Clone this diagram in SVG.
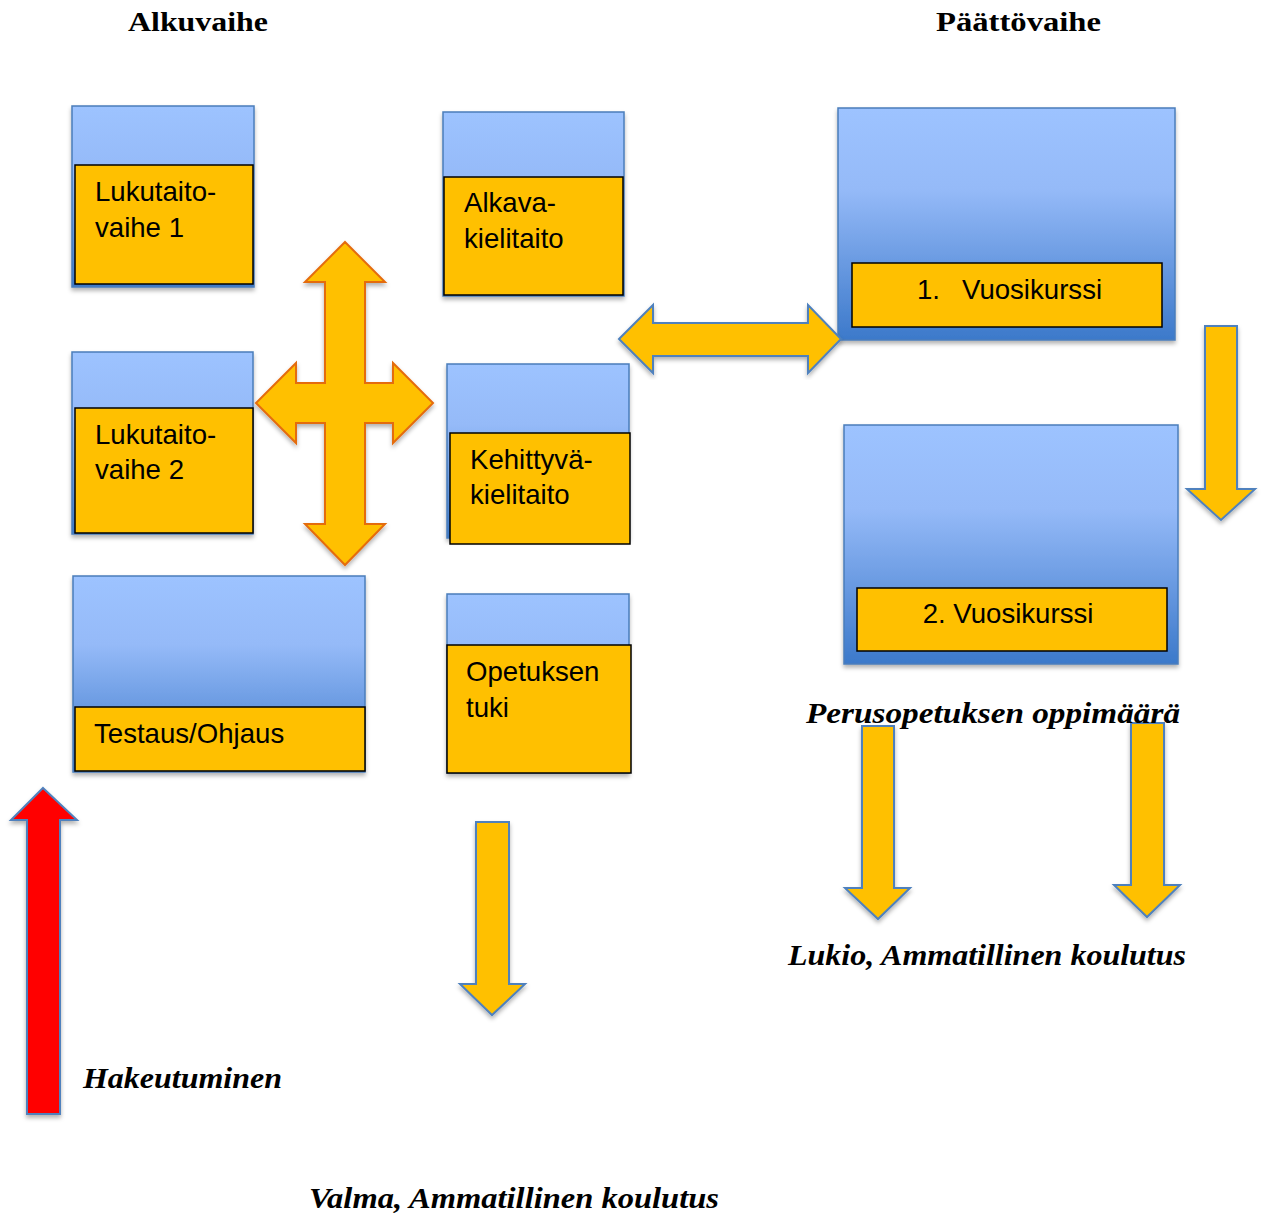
<svg xmlns="http://www.w3.org/2000/svg" width="1262" height="1217" viewBox="0 0 1262 1217">
<style>
.box{fill:url(#blueGrad);stroke:#4A7EBB;stroke-width:1.5;filter:url(#shadow)}
.lab{fill:#FFC000;stroke:#000;stroke-width:1.5}
.t{font-family:"Liberation Sans",Arial,sans-serif;font-size:27.6px;fill:#000}
.title{font-family:"Liberation Serif","Times New Roman",serif;font-weight:bold;font-size:28px;fill:#000}
.cap{font-family:"Liberation Serif","Times New Roman",serif;font-weight:bold;font-style:italic;font-size:29px;fill:#000}
.arrowB{fill:#FFC000;stroke:#4F81BD;stroke-width:2;stroke-linejoin:miter;filter:url(#shadow)}
.arrowO{fill:#FFC000;stroke:#E46C0A;stroke-width:2;filter:url(#shadow)}
.arrowR{fill:#FF0000;stroke:#4F81BD;stroke-width:2;filter:url(#shadow)}
</style>
<defs>
<linearGradient id="blueGrad" x1="0" y1="0" x2="0" y2="1">
<stop offset="0" stop-color="#9DC3FF"/>
<stop offset="0.35" stop-color="#95BAF8"/>
<stop offset="1" stop-color="#3C79CA"/>
</linearGradient>
<filter id="shadow" x="-10%" y="-10%" width="120%" height="120%">
<feDropShadow dx="0" dy="3" stdDeviation="2" flood-color="#000" flood-opacity="0.3"/>
</filter>
</defs>
<rect width="1262" height="1217" fill="#fff"/>

<text class="title" x="128" y="31" textLength="140" lengthAdjust="spacingAndGlyphs">Alkuvaihe</text>
<text class="title" x="936" y="31" textLength="165" lengthAdjust="spacingAndGlyphs">Päättövaihe</text>

<g id="lukutaito1">
<rect class="box" x="72" y="106" width="182" height="181"/>
<rect class="lab" x="75" y="165" width="178" height="119"/>
<text class="t" x="95" y="201">Lukutaito-</text>
<text class="t" x="95" y="237">vaihe 1</text>
</g>

<g id="lukutaito2">
<rect class="box" x="72" y="352" width="181" height="182"/>
<rect class="lab" x="75" y="408" width="178" height="125"/>
<text class="t" x="95" y="444">Lukutaito-</text>
<text class="t" x="95" y="479">vaihe 2</text>
</g>

<g id="testaus">
<rect class="box" x="73" y="576" width="292" height="196"/>
<rect class="lab" x="75" y="707" width="290" height="64"/>
<text class="t" x="94" y="743">Testaus/Ohjaus</text>
</g>

<g id="alkava">
<rect class="box" x="443" y="112" width="181" height="184"/>
<rect class="lab" x="444" y="177" width="179" height="118"/>
<text class="t" x="464" y="212">Alkava-</text>
<text class="t" x="464" y="248">kielitaito</text>
</g>

<g id="kehittyva">
<rect class="box" x="447" y="364" width="182" height="174"/>
<rect class="lab" x="450" y="433" width="180" height="111"/>
<text class="t" x="470" y="469">Kehittyvä-</text>
<text class="t" x="470" y="504">kielitaito</text>
</g>

<g id="opetuksen-tuki">
<rect class="box" x="447" y="594" width="182" height="179"/>
<rect class="lab" x="447" y="645" width="184" height="128"/>
<text class="t" x="466" y="681">Opetuksen</text>
<text class="t" x="466" y="717">tuki</text>
</g>

<g id="vuosikurssi1">
<rect class="box" x="838" y="108" width="337" height="232"/>
<rect class="lab" x="852" y="263" width="310" height="64"/>
<text class="t" x="917" y="299">1.</text>
<text class="t" x="962" y="299">Vuosikurssi</text>
</g>

<g id="vuosikurssi2">
<rect class="box" x="844" y="425" width="334" height="239"/>
<rect class="lab" x="857" y="588" width="310" height="63"/>
<text class="t" x="1008" y="623" text-anchor="middle">2. Vuosikurssi</text>
</g>

<g id="connectors">
<path class="arrowO" d="M345,242 L385,282 L365,282 L365,383 L393,383 L393,363 L433,403 L393,443 L393,423 L365,423 L365,524 L385,524 L345,565 L305,524 L325,524 L325,423 L296,423 L296,443 L256,403 L296,363 L296,383 L325,383 L325,282 L305,282 Z"/>
<path class="arrowB" d="M619,339 L653,305 L653,323 L808,323 L808,305 L841,339 L808,373 L808,356 L653,356 L653,373 Z"/>
<path class="arrowB" d="M1205,326 L1237,326 L1237,489 L1255,489 L1221,520 L1187,489 L1205,489 Z"/>
<path class="arrowB" d="M862,726 L894,726 L894,888 L910,888 L878,919 L845,888 L862,888 Z"/>
<path class="arrowB" d="M1131,723 L1164,723 L1164,885 L1180,885 L1147,917 L1114,885 L1131,885 Z"/>
<path class="arrowB" d="M476,822 L509,822 L509,984 L525,984 L492,1015 L460,984 L476,984 Z"/>
<path class="arrowR" d="M43,788 L77,820 L60,820 L60,1114 L27,1114 L27,820 L11,820 Z"/>
</g>

<text class="cap" x="806" y="723" textLength="374" lengthAdjust="spacingAndGlyphs">Perusopetuksen oppimäärä</text>
<text class="cap" x="788" y="965" textLength="398" lengthAdjust="spacingAndGlyphs">Lukio, Ammatillinen koulutus</text>
<text class="cap" x="83" y="1088" textLength="199" lengthAdjust="spacingAndGlyphs">Hakeutuminen</text>
<text class="cap" x="309" y="1208" textLength="410" lengthAdjust="spacingAndGlyphs">Valma, Ammatillinen koulutus</text>
</svg>
